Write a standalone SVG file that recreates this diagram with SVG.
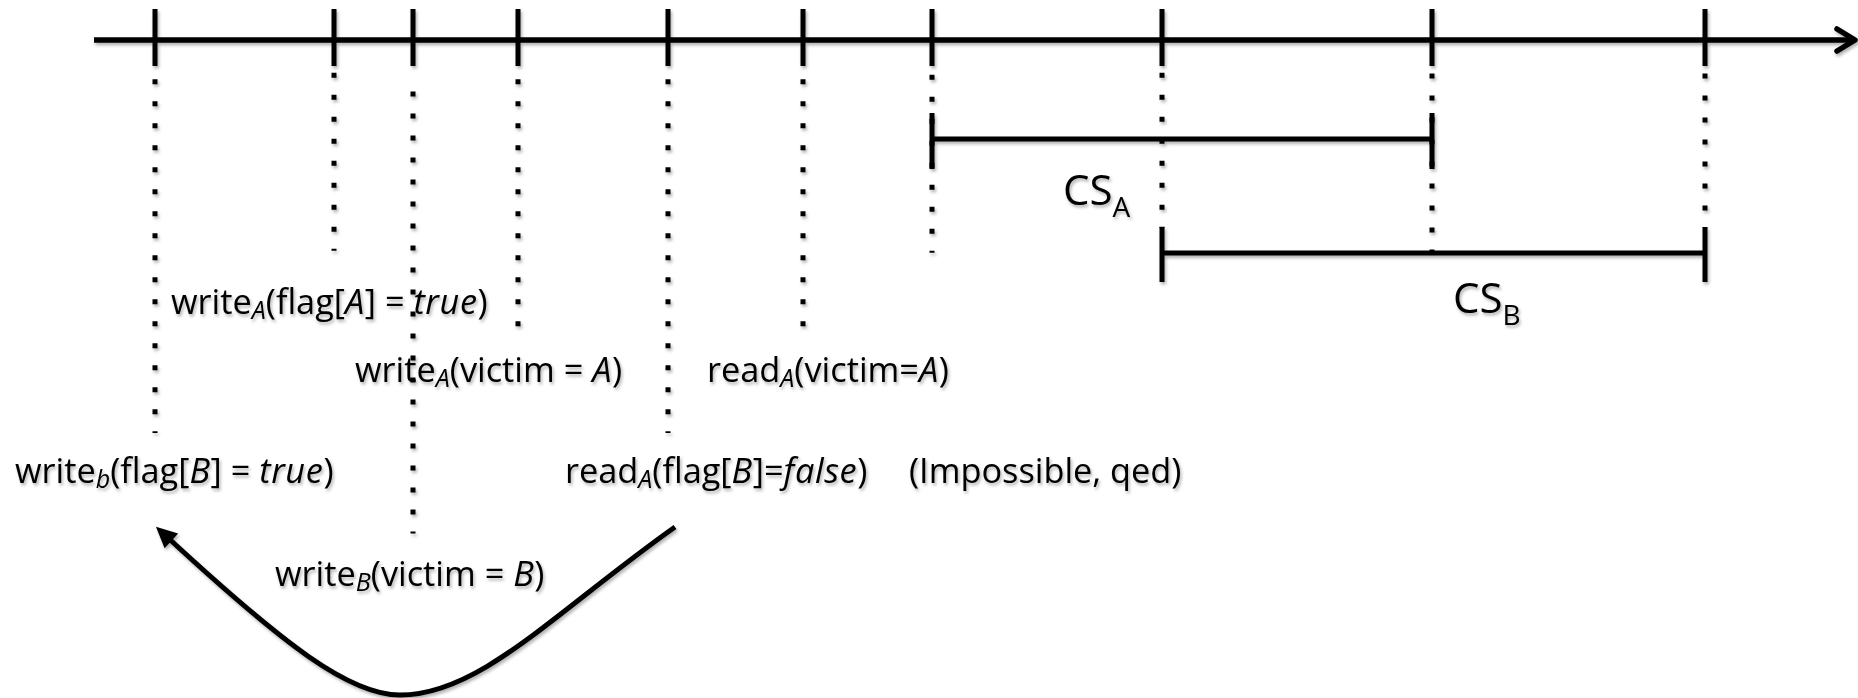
<svg xmlns="http://www.w3.org/2000/svg" width="1858" height="698" viewBox="0 0 1858 698">
  <style>
    .ln { stroke: #000; stroke-width: 5; fill: none; }
    .axis { stroke: #000; stroke-width: 5.5; fill: none; }
    .dot { stroke: #000; stroke-width: 5; stroke-dasharray: 5 17; fill: none; }
    .lbl { font-family: "Open Sans", "Noto Sans", sans-serif; font-size: 34.3px; fill: #000; }
    .cs { font-family: "Open Sans", "Noto Sans", sans-serif; font-size: 42px; fill: #000; }
    .sub { font-size: 25px; font-style: italic; }
    .csub { font-size: 28px; }
    .it { font-style: italic; letter-spacing: 0.6px; }
  </style>
  <defs>
    <filter id="shadow" x="-5%" y="-5%" width="110%" height="115%">
      <feDropShadow dx="1.5" dy="2.5" stdDeviation="1.5" flood-color="#000" flood-opacity="0.3"/>
    </filter>
    <marker id="head" viewBox="-9 -11 23 22" refX="0" refY="0" markerWidth="23" markerHeight="22" markerUnits="userSpaceOnUse" orient="auto">
      <path d="M13,0 L-8,-10 L-8,10 Z" fill="#000"/>
    </marker>
  </defs>

  <g filter="url(#shadow)">
    <!-- time axis with open arrowhead -->
    <g id="timeline">
      <line class="axis" x1="94" y1="40" x2="1854" y2="40"/>
      <polyline class="axis" points="1837,29 1855,40 1837,51" stroke-linecap="round" stroke-linejoin="round"/>
      <g class="ln">
        <line x1="155" y1="9" x2="155" y2="66"/>
        <line x1="334" y1="9" x2="334" y2="66"/>
        <line x1="413" y1="9" x2="413" y2="66"/>
        <line x1="518" y1="9" x2="518" y2="66"/>
        <line x1="668" y1="9" x2="668" y2="66"/>
        <line x1="803" y1="9" x2="803" y2="66"/>
        <line x1="932" y1="9" x2="932" y2="66"/>
        <line x1="1162" y1="9" x2="1162" y2="66"/>
        <line x1="1432" y1="9" x2="1432" y2="66"/>
        <line x1="1705" y1="9" x2="1705" y2="66"/>
      </g>
    </g>

    <!-- dotted guides dropping from each event -->
    <g id="guides">
      <line class="dot" x1="155" y1="79.2" x2="155" y2="433"/>
      <line class="dot" x1="334" y1="72.8" x2="334" y2="250.8"/>
      <line class="dot" x1="413" y1="91.5" x2="413" y2="533.5"/>
      <line class="dot" x1="518" y1="79.2" x2="518" y2="326.2"/>
      <line class="dot" x1="668" y1="79.2" x2="668" y2="433"/>
      <line class="dot" x1="803" y1="79.2" x2="803" y2="326.2"/>
      <line class="dot" x1="932" y1="74.8" x2="932" y2="252.8"/>
      <line class="dot" x1="1162" y1="72.8" x2="1162" y2="228"/>
      <line class="dot" x1="1432" y1="73.5" x2="1432" y2="253"/>
      <line class="dot" x1="1705" y1="73.5" x2="1705" y2="228"/>
    </g>

    <!-- critical section intervals -->
    <g id="cs-a">
      <line class="ln" x1="932" y1="139" x2="1432" y2="139"/>
      <line class="ln" x1="932" y1="113" x2="932" y2="169" stroke-width="6"/>
      <line class="ln" x1="1432" y1="113" x2="1432" y2="169" stroke-width="6"/>
      <text class="cs" x="1063" y="205">CS<tspan class="csub" dy="12">A</tspan></text>
    </g>
    <g id="cs-b">
      <line class="ln" x1="1162" y1="253" x2="1705" y2="253"/>
      <line class="ln" x1="1162" y1="227" x2="1162" y2="282" stroke-width="6"/>
      <line class="ln" x1="1705" y1="227" x2="1705" y2="282" stroke-width="6"/>
      <text class="cs" x="1453" y="313">CS<tspan class="csub" dy="12">B</tspan></text>
    </g>

    <!-- event labels -->
    <g id="write-a-flag">
      <text class="lbl" x="171" y="314">write<tspan class="sub" dy="5">A</tspan><tspan dy="-5">(flag[</tspan><tspan class="it">A</tspan>] = <tspan class="it">true</tspan>)</text>
    </g>
    <g id="write-a-victim">
      <text class="lbl" x="355" y="382">write<tspan class="sub" dy="5">A</tspan><tspan dy="-5">(victim = </tspan><tspan class="it">A</tspan>)</text>
    </g>
    <g id="read-a-victim">
      <text class="lbl" x="707" y="382">read<tspan class="sub" dy="5">A</tspan><tspan dy="-5">(victim=</tspan><tspan class="it">A</tspan>)</text>
    </g>
    <g id="write-b-flag">
      <text class="lbl" x="15" y="483">write<tspan class="sub" dy="5">b</tspan><tspan dy="-5">(flag[</tspan><tspan class="it">B</tspan>] = <tspan class="it">true</tspan>)</text>
    </g>
    <g id="read-a-flag">
      <text class="lbl" x="565" y="483">read<tspan class="sub" dy="5">A</tspan><tspan dy="-5">(flag[</tspan><tspan class="it">B</tspan>]=<tspan class="it">false</tspan>)</text>
    </g>
    <g id="conclusion">
      <text class="lbl" x="909" y="483">(Impossible, qed)</text>
    </g>
    <g id="write-b-victim">
      <text class="lbl" x="275" y="586">write<tspan class="sub" dy="5">B</tspan><tspan dy="-5">(victim = </tspan><tspan class="it">B</tspan>)</text>
    </g>

    <!-- ordering arrow -->
    <g id="connectors">
      <path class="ln" d="M675,527 C555,612 480,695 400,695 C350,695 285,646 165.5,535.5" marker-end="url(#head)"/>
    </g>
  </g>
</svg>
